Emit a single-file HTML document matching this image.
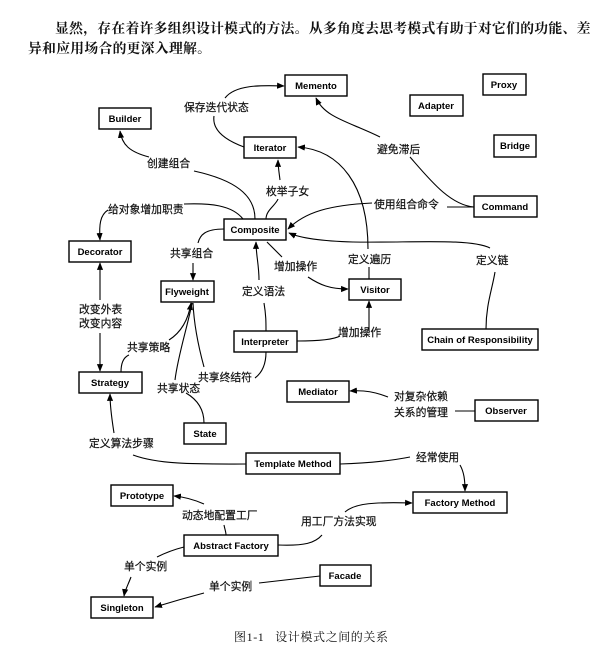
<!DOCTYPE html>
<html><head><meta charset="utf-8"><style>
html,body{margin:0;padding:0;background:#fff;}
body{width:609px;height:659px;position:relative;overflow:hidden;font-family:"Liberation Sans","Noto Sans CJK SC",sans-serif;}
.t{position:absolute;font-family:"Liberation Serif","Noto Serif CJK SC",serif;font-size:13.8px;font-weight:bold;color:#111;white-space:nowrap;}
</style></head><body>
<div class="t" style="left:55px;top:17px;letter-spacing:0.3px;">显然，存在着许多组织设计模式的方法。从多角度去思考模式有助于对它们的功能、差</div>
<div class="t" style="left:28px;top:37px;letter-spacing:0.3px;">异和应用场合的更深入理解。</div>
<svg width="609" height="659" style="position:absolute;left:0;top:0" xmlns="http://www.w3.org/2000/svg">
<defs><marker id="a" viewBox="0 0 10 10" refX="9" refY="5" markerWidth="7" markerHeight="7" orient="auto"><path d="M0,1 L10,5 L0,9 z" fill="#000"/></marker></defs>
<g fill="#fff" stroke="#000" stroke-width="1.4">
<rect x="285" y="75" width="62" height="21"/>
<rect x="483" y="74" width="43" height="21"/>
<rect x="410" y="95" width="53" height="21"/>
<rect x="99" y="108" width="52" height="21"/>
<rect x="244" y="137" width="52" height="21"/>
<rect x="494" y="135" width="42" height="22"/>
<rect x="474" y="196" width="63" height="21"/>
<rect x="224" y="219" width="62" height="21"/>
<rect x="69" y="241" width="62" height="21"/>
<rect x="161" y="281" width="53" height="21"/>
<rect x="349" y="279" width="52" height="21"/>
<rect x="234" y="331" width="63" height="21"/>
<rect x="422" y="329" width="116" height="21"/>
<rect x="79" y="372" width="63" height="21"/>
<rect x="287" y="381" width="62" height="21"/>
<rect x="475" y="400" width="63" height="21"/>
<rect x="184" y="423" width="42" height="21"/>
<rect x="246" y="453" width="94" height="21"/>
<rect x="111" y="485" width="62" height="21"/>
<rect x="413" y="492" width="94" height="21"/>
<rect x="184" y="535" width="94" height="21"/>
<rect x="320" y="565" width="51" height="21"/>
<rect x="91" y="597" width="62" height="21"/>
</g>
<g font-family="Liberation Sans, sans-serif" font-weight="bold" font-size="9.5" text-anchor="middle" fill="#000">
<text x="316" y="89">Memento</text>
<text x="504" y="88">Proxy</text>
<text x="436" y="109">Adapter</text>
<text x="125" y="122">Builder</text>
<text x="270" y="151">Iterator</text>
<text x="515" y="149">Bridge</text>
<text x="505" y="210">Command</text>
<text x="255" y="233">Composite</text>
<text x="100" y="255">Decorator</text>
<text x="187" y="295">Flyweight</text>
<text x="375" y="293">Visitor</text>
<text x="265" y="345">Interpreter</text>
<text x="480" y="343">Chain of Responsibility</text>
<text x="110" y="386">Strategy</text>
<text x="318" y="395">Mediator</text>
<text x="506" y="414">Observer</text>
<text x="205" y="437">State</text>
<text x="293" y="467">Template Method</text>
<text x="142" y="499">Prototype</text>
<text x="460" y="506">Factory Method</text>
<text x="231" y="549">Abstract Factory</text>
<text x="345" y="579">Facade</text>
<text x="122" y="611">Singleton</text>
</g>
<g fill="none" stroke="#000" stroke-width="1.1">
<path d="M244,147 C225,140 212,130 214,116"/>
<path d="M225,98 C235,85 260,85 284,86" marker-end="url(#a)"/>
<path d="M380,137 C350,122 325,118 316,98" marker-end="url(#a)"/>
<path d="M410,157 C430,180 450,205 474,207"/>
<path d="M149,157 C130,152 122,145 120,131" marker-end="url(#a)"/>
<path d="M194,171 C235,180 255,195 255,219"/>
<path d="M266,219 C266,210 276,205 278,199"/>
<path d="M280,180 C279,172 278,166 278,160" marker-end="url(#a)"/>
<path d="M243,219 C232,205 210,203 184,204"/>
<path d="M108,210 C100,215 99,225 100,240" marker-end="url(#a)"/>
<path d="M447,207 L474,207"/>
<path d="M372,203 C330,205 305,212 288,229" marker-end="url(#a)"/>
<path d="M486,329 C486,305 492,290 495,272"/>
<path d="M490,248 C470,238 410,243 353,242 C320,241 300,238 289,233" marker-end="url(#a)"/>
<path d="M368,249 C368,185 340,150 298,147" marker-end="url(#a)"/>
<path d="M369,267 L369,279"/>
<path d="M267,242 L282,257"/>
<path d="M308,277 C320,285 330,289 348,289" marker-end="url(#a)"/>
<path d="M224,229 C205,229 200,235 198,243"/>
<path d="M193,263 L193,280" marker-end="url(#a)"/>
<path d="M259,280 C259,265 256,255 256,242" marker-end="url(#a)"/>
<path d="M264,303 C266,315 266,322 266,331"/>
<path d="M369,330 C369,320 369,312 369,301" marker-end="url(#a)"/>
<path d="M297,341 C315,341 333,340 340,336"/>
<path d="M100,300 L100,263" marker-end="url(#a)"/>
<path d="M100,333 L100,371" marker-end="url(#a)"/>
<path d="M121,372 C121,362 124,357 129,355"/>
<path d="M169,340 C180,333 188,322 191,303" marker-end="url(#a)"/>
<path d="M175,380 C178,355 188,325 192,303"/>
<path d="M204,367 C198,345 194,325 193,303"/>
<path d="M186,393 C198,400 204,410 204,423"/>
<path d="M255,378 C263,372 266,362 266,352"/>
<path d="M388,397 C375,392 365,390 350,391" marker-end="url(#a)"/>
<path d="M455,411 L475,411"/>
<path d="M114,433 C112,420 110,408 110,394" marker-end="url(#a)"/>
<path d="M133,455 C160,465 200,464 246,464"/>
<path d="M340,464 C370,463 395,460 410,457"/>
<path d="M460,465 C464,472 465,480 465,491" marker-end="url(#a)"/>
<path d="M204,504 C195,500 185,497 174,496" marker-end="url(#a)"/>
<path d="M224,525 C225,530 226,532 226,535"/>
<path d="M278,545 C305,546 315,543 322,535"/>
<path d="M345,512 C355,503 375,502 412,503" marker-end="url(#a)"/>
<path d="M184,547 C172,550 165,553 157,557"/>
<path d="M131,577 C128,585 125,590 124,596" marker-end="url(#a)"/>
<path d="M320,576 L259,583"/>
<path d="M204,593 C185,598 168,603 155,607" marker-end="url(#a)"/>
</g>
<g font-family="Liberation Sans, Noto Sans CJK SC, sans-serif" font-size="10.8" fill="#111" stroke="#111" stroke-width="0.2">
<text x="184" y="111">保存迭代状态</text>
<text x="147" y="167">创建组合</text>
<text x="266" y="195">枚举子女</text>
<text x="377" y="153">避免滞后</text>
<text x="108" y="213">给对象增加职责</text>
<text x="374" y="208">使用组合命令</text>
<text x="170" y="257">共享组合</text>
<text x="274" y="270">增加操作</text>
<text x="348" y="263">定义遍历</text>
<text x="476" y="264">定义链</text>
<text x="242" y="295">定义语法</text>
<text x="79" y="313">改变外表</text>
<text x="79" y="327">改变内容</text>
<text x="338" y="336">增加操作</text>
<text x="127" y="351">共享策略</text>
<text x="198" y="381">共享终结符</text>
<text x="157" y="392">共享状态</text>
<text x="394" y="400">对复杂依赖</text>
<text x="394" y="416">关系的管理</text>
<text x="89" y="447">定义算法步骤</text>
<text x="416" y="461">经常使用</text>
<text x="182" y="519">动态地配置工厂</text>
<text x="301" y="525">用工厂方法实现</text>
<text x="124" y="570">单个实例</text>
<text x="209" y="590">单个实例</text>
</g>
<text x="234" y="641" font-family="Liberation Serif, Noto Serif CJK SC, serif" font-size="12" letter-spacing="0.6" fill="#111" xml:space="preserve">图1-1   设计模式之间的关系</text>
</svg>
</body></html>
